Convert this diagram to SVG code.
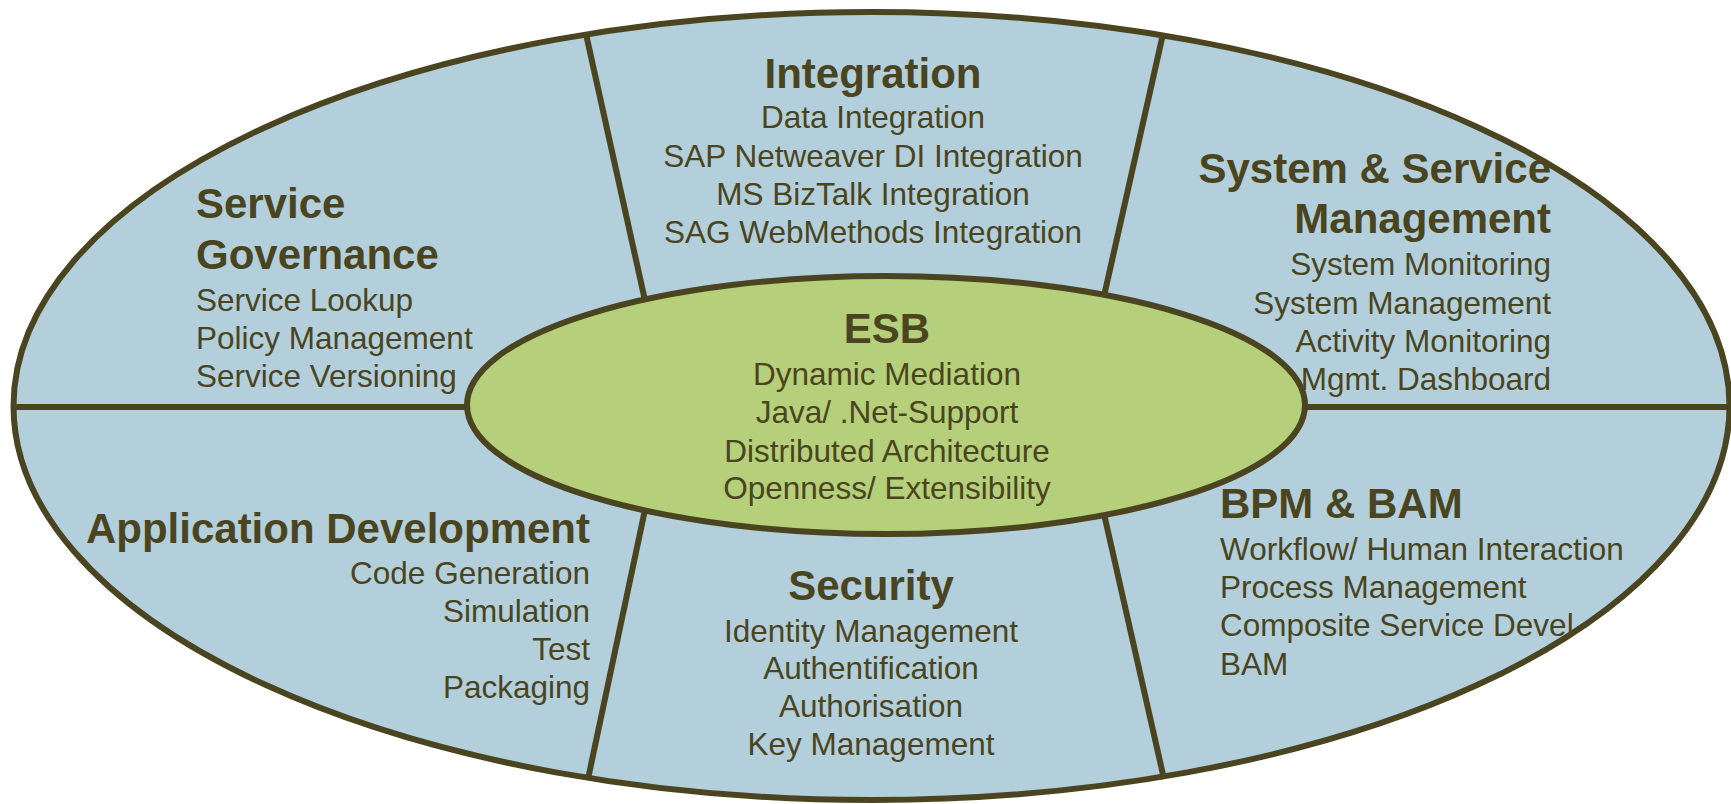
<svg xmlns="http://www.w3.org/2000/svg" width="1731" height="804" viewBox="0 0 1731 804">
<style>
.shape{stroke:#4A4520;stroke-width:6}
.outer{fill:#B2CFDB}
.inner{fill:#B5CF7A}
.div{stroke:#4A4520;stroke-width:6;fill:none}
text{font-family:"Liberation Sans",Arial,sans-serif;fill:#4A4520}
.t{font-size:42px;font-weight:bold}
.i{font-size:31.5px}
.c{text-anchor:middle}
.r{text-anchor:end}
</style>
<rect width="1731" height="804" fill="#FFFFFF"/>
<ellipse id="outer" class="shape outer" cx="871.5" cy="406" rx="858" ry="394"/>
<g id="connectors">
<line class="div" x1="13" y1="407" x2="470" y2="407"/>
<line class="div" x1="1300" y1="407" x2="1729" y2="407"/>
<line class="div" x1="586" y1="34" x2="646" y2="305"/>
<line class="div" x1="1163" y1="34" x2="1102" y2="305"/>
<line class="div" x1="646" y1="505" x2="588" y2="779"/>
<line class="div" x1="1102" y1="505" x2="1164" y2="779"/>
</g>
<g id="esb">
<ellipse class="shape inner" cx="886" cy="405" rx="419" ry="129"/>
<text class="t c" x="887" y="343">ESB</text>
<text class="i c" x="887" y="385">Dynamic Mediation</text>
<text class="i c" x="887" y="423">Java/ .Net-Support</text>
<text class="i c" x="887" y="462">Distributed Architecture</text>
<text class="i c" x="887" y="499">Openness/ Extensibility</text>
</g>
<g id="integration">
<text class="t c" x="873" y="88">Integration</text>
<text class="i c" x="873" y="128">Data Integration</text>
<text class="i c" x="873" y="167">SAP Netweaver DI Integration</text>
<text class="i c" x="873" y="205">MS BizTalk Integration</text>
<text class="i c" x="873" y="243">SAG WebMethods Integration</text>
</g>
<g id="service-governance">
<text class="t" x="196" y="218">Service</text>
<text class="t" x="196" y="269">Governance</text>
<text class="i" x="196" y="311">Service Lookup</text>
<text class="i" x="196" y="349">Policy Management</text>
<text class="i" x="196" y="387">Service Versioning</text>
</g>
<g id="system-service-management">
<text class="t r" x="1551" y="183">System &amp; Service</text>
<text class="t r" x="1551" y="233">Management</text>
<text class="i r" x="1551" y="275">System Monitoring</text>
<text class="i r" x="1551" y="314">System Management</text>
<text class="i r" x="1551" y="352">Activity Monitoring</text>
<text class="i r" x="1551" y="390">Mgmt. Dashboard</text>
</g>
<g id="application-development">
<text class="t r" x="590" y="543">Application Development</text>
<text class="i r" x="590" y="584">Code Generation</text>
<text class="i r" x="590" y="622">Simulation</text>
<text class="i r" x="590" y="660">Test</text>
<text class="i r" x="590" y="698">Packaging</text>
</g>
<g id="security">
<text class="t c" x="871" y="600">Security</text>
<text class="i c" x="871" y="642">Identity Management</text>
<text class="i c" x="871" y="679">Authentification</text>
<text class="i c" x="871" y="717">Authorisation</text>
<text class="i c" x="871" y="755">Key Management</text>
</g>
<g id="bpm-bam">
<text class="t" x="1220" y="518">BPM &amp; BAM</text>
<text class="i" x="1220" y="560">Workflow/ Human Interaction</text>
<text class="i" x="1220" y="598">Process Management</text>
<text class="i" x="1220" y="636">Composite Service Devel</text>
<text class="i" x="1220" y="675">BAM</text>
</g>
</svg>
